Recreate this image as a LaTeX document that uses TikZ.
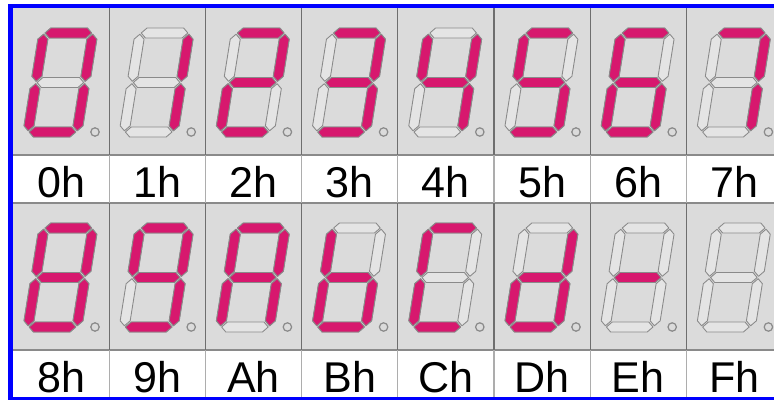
\documentclass[tikz,border=0pt]{standalone}
\usepackage{fontspec}
\setmainfont{Liberation Sans}
\usepackage{tikz}
\definecolor{segred}{HTML}{D7186E}
\definecolor{panelgrey}{HTML}{DBDBDB}
\definecolor{offgrey}{HTML}{E4E4E4}
\definecolor{edgegrey}{HTML}{8A8A8A}
\definecolor{gridgrey}{HTML}{6E6E6E}
\definecolor{frameblue}{HTML}{0000FF}
% one segment, horizontal or vertical (style, x, y)
\newcommand{\hseg}[3]{\draw[#1] (#2+1.2,#3) -- (#2+6.2,#3+5) -- (#2+42.8,#3+5) -- (#2+47.8,#3) -- (#2+42.8,#3-5) -- (#2+6.2,#3-5) -- cycle;}
\newcommand{\vseg}[3]{\draw[#1] (#2,#3+1.2) -- (#2+5,#3+6.2) -- (#2+5,#3+43.3) -- (#2,#3+48.3) -- (#2-5,#3+43.3) -- (#2-5,#3+6.2) -- cycle;}
% segments a..g of a digit
\newcommand{\dsega}[1]{\hseg{#1}{0}{99}}
\newcommand{\dsegb}[1]{\vseg{#1}{49}{49.5}}
\newcommand{\dsegc}[1]{\vseg{#1}{49}{0}}
\newcommand{\dsegd}[1]{\hseg{#1}{0}{0}}
\newcommand{\dsege}[1]{\vseg{#1}{0}{0}}
\newcommand{\dsegf}[1]{\vseg{#1}{0}{49.5}}
\newcommand{\dsegg}[1]{\hseg{#1}{0}{49.5}}
\newcommand{\dsegx}[1]{}

\begin{document}
\begin{tikzpicture}[
    x=0.02cm, y=0.02cm,
    segon/.style={draw=edgegrey, fill=segred, line width=0.5pt, line join=round},
    segoff/.style={draw=edgegrey, fill=offgrey, line width=0.5pt, line join=round},
    hexlabel/.style={anchor=base, font=\fontsize{24.5}{24.5}\selectfont, text=black, inner sep=0pt},
]
\useasboundingbox (0,0) rectangle (774,400);
% Frame and panels
\fill[white] (0,0) rectangle (774,400);
\fill[frameblue] (8,0) rectangle (774,396);
\fill[panelgrey] (13,245) rectangle (774,392);
\fill[white] (13,197) rectangle (774,245);
\fill[panelgrey] (13,50) rectangle (774,197);
\fill[white] (13,3) rectangle (774,50);
\draw[edgegrey, line width=0.6pt] (13,245) -- (774,245) (13,197) -- (774,197) (13,50) -- (774,50);
% Column separators
\foreach \c in {1,...,7} {
    \draw[gridgrey, line width=0.6pt] (13+96.2*\c,392) -- (13+96.2*\c,245) (13+96.2*\c,197) -- (13+96.2*\c,50);
    \draw[edgegrey!70, line width=0.6pt] (13+96.2*\c,245) -- (13+96.2*\c,197) (13+96.2*\c,50) -- (13+96.2*\c,3);
}
% Digits with lit segments
\foreach \lab/\lit [count=\i from 0] in {0h/{a,b,c,d,e,f}, 1h/{b,c}, 2h/{a,b,g,e,d}, 3h/{a,b,g,c,d},
        4h/{f,g,b,c}, 5h/{a,f,g,c,d}, 6h/{a,f,g,e,c,d}, 7h/{a,b,c},
        8h/{a,b,c,d,e,f,g}, 9h/{a,b,c,d,f,g}, Ah/{a,b,c,e,f,g}, Bh/{f,g,e,c,d},
        Ch/{a,f,e,d}, Dh/{b,c,d,e,g}, Eh/{g}, Fh/{x}} {
    \pgfmathsetmacro\cx{13+96.2*mod(\i,8)}
    \pgfmathsetmacro\cy{\i<8 ? 392 : 197}
    \begin{scope}[shift={(\cx+15,\cy-124)}, xslant=0.16]
        \foreach \s in {a,...,g} {\csname dseg\s\endcsname{segoff}}
        \foreach \s in \lit {\csname dseg\s\endcsname{segon}}
    \end{scope}
    \draw[edgegrey, line width=0.7pt] (\cx+82,\cy-124) circle[radius=4.2];
    \node[hexlabel] (lab\i) at (\cx+48.1,\cy-189) {\lab};
}
\end{tikzpicture}
\end{document}
